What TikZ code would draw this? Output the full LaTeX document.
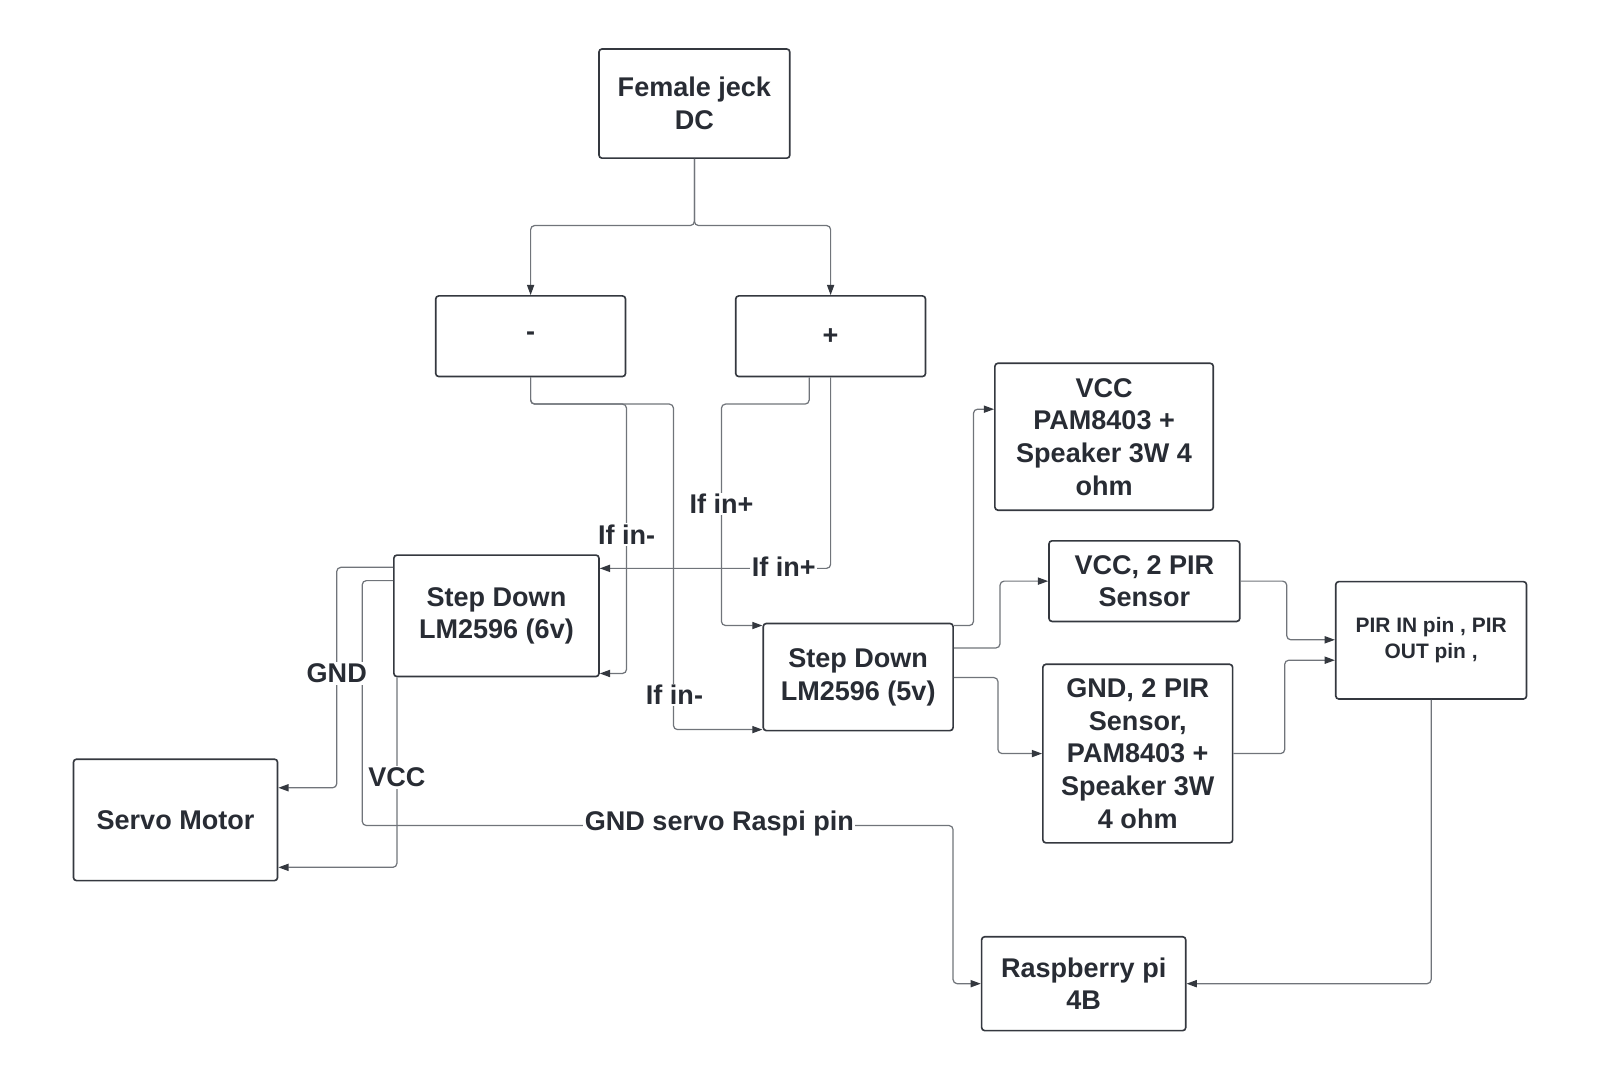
\documentclass[tikz,border=0pt]{standalone}
\usepackage{fontspec}
\setmainfont{Liberation Sans}
\usetikzlibrary{arrows.meta}
\definecolor{ink}{RGB}{40,44,52}
\definecolor{frame}{RGB}{52,56,63}
\definecolor{wirec}{RGB}{112,116,122}

\begin{document}
\begin{tikzpicture}[x=1pt,y=-1pt,
  box/.style={draw=frame,fill=white,line width=1.6pt,rounded corners=3pt,align=center,text=ink,inner sep=0pt,font=\bfseries\fontsize{26.5}{32}\selectfont},
  lbl/.style={fill=white,inner sep=1.5pt,text=ink,font=\bfseries\fontsize{26.5}{32}\selectfont},
  wire/.style={draw=wirec,line width=1.2pt,rounded corners=4pt},
  arr/.style={wire,-{Triangle[length=10pt,width=7pt,color=frame]}}]
\useasboundingbox (0,0) rectangle (1568,1060);
\node[box,minimum width=187pt,minimum height=107pt] (jack) at (680.5,101.5) {Female jeck\\DC};
\node[box,minimum width=186pt,minimum height=79pt] (minus) at (520,329.5) {-};
\node[box,minimum width=186pt,minimum height=79pt] (plus) at (814,329.5) {+};
\node[box,minimum width=214pt,minimum height=144pt] (amp) at (1082,428) {VCC\\PAM8403 +\\Speaker 3W 4\\ohm};
\node[box,minimum width=201pt,minimum height=119pt] (sixv) at (486.5,603.5) {Step Down\\LM2596 (6v)};
\node[box,minimum width=187pt,minimum height=79pt] (pirvcc) at (1121.5,569.5) {VCC, 2 PIR\\Sensor};
\node[box,minimum width=187pt,minimum height=115pt,font=\bfseries\fontsize{20.5}{25}\selectfont] (pirio) at (1402.5,627.5) {PIR IN pin , PIR\\OUT pin ,};
\node[box,minimum width=186pt,minimum height=105pt] (fivev) at (841,663.5) {Step Down\\LM2596 (5v)};
\node[box,minimum width=186pt,minimum height=175pt] (gnd) at (1115,738.5) {GND, 2 PIR\\Sensor,\\PAM8403 +\\Speaker 3W\\4 ohm};
\node[box,minimum width=200pt,minimum height=119pt] (servo) at (172,803.5) {Servo Motor};
\node[box,minimum width=200pt,minimum height=92pt] (rpi) at (1062,964) {Raspberry pi\\4B};

\draw[arr] (jack.south) -- (jack.south |- 0,221) -| (minus.north);
\draw[arr] (jack.south) -- (jack.south |- 0,221) -| (plus.north);
\draw[arr] (minus.south) |- (614,396) |- (sixv.east |- 0,660);
\draw[arr] (minus.south) |- (660,396) |- (fivev.west |- 0,715);
\draw[arr] (plus.south -| 793,0) |- (707,396) |- (fivev.west |- 0,613);
\draw[arr] (plus.south) |- (sixv.east |- 0,557);
\draw[arr] (sixv.west |- 0,556) -| (330,772) -- (servo.east |- 0,772);
\draw[arr] (sixv.south -| 389,0) |- (servo.east |- 0,850);
\draw[arr] (sixv.west |- 0,569) -| (355,809) -| (934,900) |- (rpi.west);
\draw[arr] (fivev.east |- 0,613) -| (954,500) |- (amp.west |- 0,401);
\draw[arr] (fivev.east |- 0,635) -| (980,600) |- (pirvcc.west);
\draw[arr] (fivev.east |- 0,664) -| (978,700) |- (gnd.west);
\draw[arr] (pirvcc.east) -| (1261,600) |- (pirio.west |- 0,627);
\draw[arr] (gnd.east) -| (1259,700) |- (pirio.west |- 0,647);
\draw[arr] (pirio.south) |- (rpi.east);

\node[lbl] (inm1) at (614,524) {If in-};
\node[lbl] (inm2) at (661,681) {If in-};
\node[lbl] (inp1) at (707,494) {If in+};
\node[lbl] (inp2) at (768,555) {If in+};
\node[lbl] (gndl) at (330,660) {GND};
\node[lbl] (vccl) at (389,762) {VCC};
\node[lbl] (rasl) at (705,807) {GND servo Raspi pin};
\end{tikzpicture}
\end{document}
